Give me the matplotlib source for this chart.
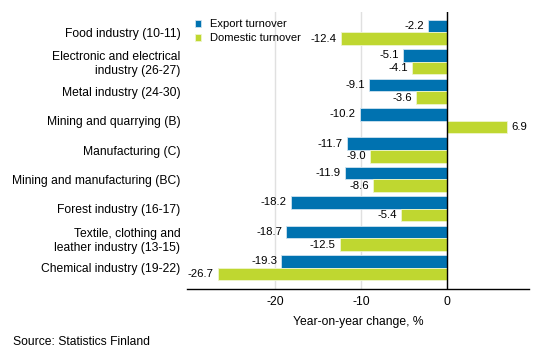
import matplotlib.pyplot as plt
import numpy as np

plt.rcParams['font.family'] = ['Liberation Sans', 'DejaVu Sans']
plt.rcParams['font.size'] = 8.7

categories = ['Food industry (10-11)', 'Electronic and electrical\nindustry (26-27)',
              'Metal industry (24-30)', 'Mining and quarrying (B)', 'Manufacturing (C)',
              'Mining and manufacturing (BC)', 'Forest industry (16-17)',
              'Textile, clothing and\nleather industry (13-15)', 'Chemical industry (19-22)']
export = [-2.2, -5.1, -9.1, -10.2, -11.7, -11.9, -18.2, -18.7, -19.3]
domestic = [-12.4, -4.1, -3.6, 6.9, -9.0, -8.6, -5.4, -12.5, -26.7]

c_exp = '#0072b0'
c_dom = '#bfd730'

fig = plt.figure(figsize=(5.4, 3.6), dpi=100)
ax = fig.add_axes([0.347, 0.197, 0.633, 0.771])

y = np.arange(len(categories))
h = 0.43
b1 = ax.barh(y - h / 2, export, height=h, color=c_exp, edgecolor='#cfe3f0', linewidth=0.6,
             label='Export turnover', zorder=3)
b2 = ax.barh(y + h / 2, domestic, height=h, color=c_dom, edgecolor='#eef5cc', linewidth=0.6,
             label='Domestic turnover', zorder=3)

# value labels next to the bar ends
for bars, vals in [(b1, export), (b2, domestic)]:
    for bar, v in zip(bars, vals):
        yc = bar.get_y() + bar.get_height() / 2
        if v < 0:
            ax.annotate('%.1f' % v, (v, yc), xytext=(-3, 0), textcoords='offset points',
                        ha='right', va='center', fontsize=8.2)
        else:
            ax.annotate('%.1f' % v, (v, yc), xytext=(3, 0), textcoords='offset points',
                        ha='left', va='center', fontsize=8.2)

ax.set_xlim(-30.2, 9.5)
ax.set_ylim(8.73, -0.71)
ax.set_yticks(y)
ax.set_yticklabels(categories, ha='right')
ax.set_xticks([-20, -10, 0])
ax.set_xticklabels(['-20', '-10', '0'])
ax.tick_params(length=0)
ax.tick_params(axis='x', pad=5)
ax.tick_params(axis='y', pad=5)
ax.grid(axis='x', color='#e0e0e0', linewidth=1, zorder=0)
ax.axvline(0, color='black', linewidth=1, zorder=4)
for s in ['top', 'right', 'left']:
    ax.spines[s].set_visible(False)
ax.spines['bottom'].set_color('black')
ax.spines['bottom'].set_linewidth(1)

ax.set_xlabel('Year-on-year change, %', labelpad=6)
ax.legend(loc='upper left', bbox_to_anchor=(0.0, 1.0), frameon=False, fontsize=8.0,
          handlelength=0.55, handleheight=0.55, handletextpad=0.8, labelspacing=0.35,
          borderaxespad=0.3)

fig.text(0.024, 0.049, 'Source: Statistics Finland', va='center')

fig.savefig('out.png', dpi=100)
